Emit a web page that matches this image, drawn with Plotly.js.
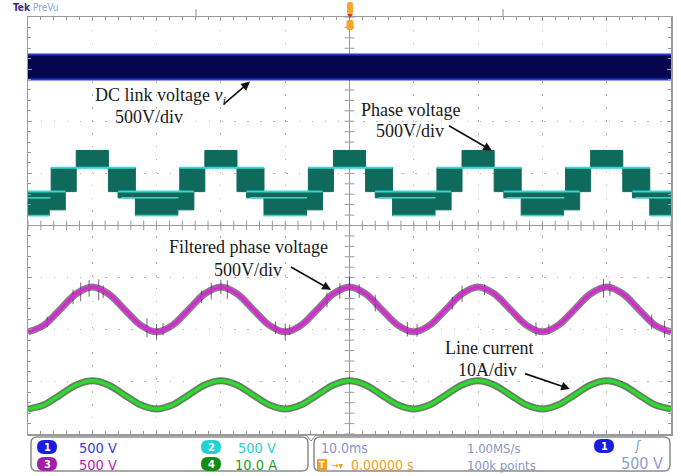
<!DOCTYPE html>
<html>
<head>
<meta charset="utf-8">
<script src="https://cdn.plot.ly/plotly-3.0.1.min.js"></script>
<style>
html,body{margin:0;padding:0;background:#fff;}
#chart{width:681px;height:476px;}
</style>
</head>
<body>
<div id="chart"></div>
<script>
// ---- time axis (ms), 10 ms/div, trigger at 0 ----
const tMs = [-50,-47.5,-45,-42.5,-40,-37.5,-35,-32.5,-30,-27.5,-25,-22.5,-20,-17.5,-15,-12.5,-10,-7.5,-5,-2.5,0,2.5,5,7.5,10,12.5,15,17.5,20,22.5,25,27.5,30,32.5,35,37.5,40,42.5,45,47.5,50];

// ---- values in screen divisions ----
// Ch3 filtered phase voltage (500 V/div)
const filteredPhase = [-2.04,-1.91,-1.61,-1.31,-1.18,-1.31,-1.61,-1.91,-2.04,-1.91,-1.61,-1.31,-1.18,-1.31,-1.61,-1.91,-2.04,-1.91,-1.61,-1.31,-1.18,-1.31,-1.61,-1.91,-2.04,-1.91,-1.61,-1.31,-1.18,-1.31,-1.61,-1.91,-2.04,-1.91,-1.61,-1.31,-1.18,-1.31,-1.61,-1.91,-2.04];
// switching spikes riding on the filtered phase voltage (time, half-height)
const spikeT = [-47,-43,-41.8,-40.5,-39,-38.3,-31.5,-30,-29,-23,-21.5,-20,-19,-11.5,-10,-9.3,-3.5,-1.5,0,1.5,4,9,10.5,16,17.5,21,29,31,39.5,40.5,47,49];
const spikeH = [0.10,0.14,0.18,0.16,0.20,0.12,0.18,0.15,0.12,0.12,0.16,0.14,0.18,0.12,0.16,0.10,0.14,0.15,0.20,0.13,0.16,0.14,0.12,0.12,0.16,0.10,0.13,0.10,0.18,0.14,0.14,0.16];
// Ch4 line current (10 A/div)
const lineCurrent = [-3.52,-3.44,-3.25,-3.06,-2.98,-3.06,-3.25,-3.44,-3.52,-3.44,-3.25,-3.06,-2.98,-3.06,-3.25,-3.44,-3.52,-3.44,-3.25,-3.06,-2.98,-3.06,-3.25,-3.44,-3.52,-3.44,-3.25,-3.06,-2.98,-3.06,-3.25,-3.44,-3.52,-3.44,-3.25,-3.06,-2.98,-3.06,-3.25,-3.44,-3.52];

// Ch1 DC link voltage band (ripple envelope)
const dcT = [-50, 50];
const dcLow = [2.80, 2.80];
const dcHigh = [3.28, 3.28];

// Ch2 phase voltage: PWM envelope, segment start times with low/high level
const phaseT = [-50,-46.7,-46.4,-44.2,-42.5,-37.5,-36.0,-33.3,-26.7,-26.4,-24.2,-22.5,-17.5,-16.0,-13.3,-6.7,-6.4,-4.2,-2.5,2.5,4.0,6.7,13.3,13.6,15.8,17.5,22.5,24.0,26.7,33.3,33.6,35.8,37.5,42.5,44.0,46.7,50];
const phaseLo = [0.19,0.30,0.30,0.65,1.11,0.65,0.53,0.19,0.30,0.30,0.65,1.11,0.65,0.53,0.19,0.30,0.30,0.65,1.11,0.65,0.53,0.19,0.30,0.30,0.65,1.11,0.65,0.53,0.19,0.30,0.30,0.65,1.11,0.65,0.53,0.19,0.19];
const phaseHi = [0.65,0.65,1.11,1.11,1.44,1.11,1.11,0.65,0.65,1.11,1.11,1.44,1.11,1.11,0.65,0.65,1.11,1.11,1.44,1.11,1.11,0.65,0.65,1.11,1.11,1.44,1.11,1.11,0.65,0.65,1.11,1.11,1.44,1.11,1.11,0.65,0.65];
// bright (dwell) levels of the phase voltage
const dwellBX = [-46.4,-33.3,null,-26.4,-13.3,null,-6.4,6.7,null,13.6,26.7,null,33.6,46.7];
const dwellBY = [1.11,1.11,null,1.11,1.11,null,1.11,1.11,null,1.11,1.11,null,1.11,1.11];
const dwellCX = [-50,-44.2,null,-36,-24.2,null,-16,-4.2,null,4,15.8,null,24,35.8,null,44,50];
const dwellCY = [0.65,0.65,null,0.65,0.65,null,0.65,0.65,null,0.65,0.65,null,0.65,0.65,null,0.65,0.65];
const dwellMX = [-50,-46.5,null,-35.5,-26.6,null,-15.5,-6.6,null,4.5,13.4,null,24.5,33.4,null,44.5,50];
const dwellMY = [0.53,0.53,null,0.53,0.53,null,0.53,0.53,null,0.53,0.53,null,0.53,0.53,null,0.53,0.53];
const dwellDX = [-50,-46.7,null,-33.3,-26.7,null,-13.3,-6.7,null,6.7,13.3,null,26.7,33.3,null,46.7,50];
const dwellDY = [0.19,0.19,null,0.19,0.19,null,0.19,0.19,null,0.19,0.19,null,0.19,0.19,null,0.19,0.19];

// build the closed step outline of the phase-voltage envelope from the segments
const envX = [], envY = [];
for (let i = 0; i < phaseT.length - 1; i++) { envX.push(phaseT[i], phaseT[i + 1]); envY.push(phaseHi[i], phaseHi[i]); }
for (let i = phaseT.length - 2; i >= 0; i--) { envX.push(phaseT[i + 1], phaseT[i]); envY.push(phaseLo[i], phaseLo[i]); }
envX.push(envX[0]); envY.push(envY[0]);

// spikes: vertical strokes centred on the filtered-phase curve
function interp(xs, ys, t) {
  for (let i = 0; i < xs.length - 1; i++) if (t >= xs[i] && t <= xs[i + 1]) return ys[i] + (ys[i + 1] - ys[i]) * (t - xs[i]) / (xs[i + 1] - xs[i]);
  return ys[ys.length - 1];
}
const spX = [], spY = [];
spikeT.forEach((t, i) => { const c = interp(tMs, filteredPhase, t); spX.push(t, t, null); spY.push(c - spikeH[i], c + spikeH[i], null); });

// ---- graticule helpers (decorative) ----
const gx = [], gy = [], hx = [], hy = [];
for (let v = -50; v <= 50.001; v += 2) { gx.push(v); gy.push(0); }
for (let v = -4; v <= 4.001; v += 0.2) { hx.push(0); hy.push(+v.toFixed(2)); }

const PL = 28, PR = 671, PT = 17, PB = 434;
const px = x => (x - PL) / (PR - PL);
const py = y => (PB - y) / (PB - PT);
function roundRect(x0, y0, x1, y1, r) {
  const rx = r / (PR - PL), ry = r / (PB - PT);
  const a = px(x0), b = px(x1), c = py(y0), d = py(y1);
  return `M ${a+rx} ${c} L ${b-rx} ${c} Q ${b} ${c} ${b} ${c-ry} L ${b} ${d+ry} Q ${b} ${d} ${b-rx} ${d} L ${a+rx} ${d} Q ${a} ${d} ${a} ${d+ry} L ${a} ${c-ry} Q ${a} ${c} ${a+rx} ${c} Z`;
}

const traces = [
  {x: gx, y: gy, mode: 'markers', marker: {symbol: 'line-ns', size: 7, line: {color: '#9a9a9a', width: 1}}, hoverinfo: 'skip'},
  {x: hx, y: hy, mode: 'markers', marker: {symbol: 'line-ew', size: 7, line: {color: '#9a9a9a', width: 1}}, hoverinfo: 'skip'},
  // DC link band
  {x: dcT, y: dcLow, mode: 'lines', line: {color: '#2438d0', width: 2}},
  {x: dcT, y: dcHigh, mode: 'lines', line: {color: '#2438d0', width: 2}, fill: 'tonexty', fillcolor: '#06064e'},
  // phase voltage envelope
  {x: envX, y: envY, mode: 'lines', line: {color: '#0f6a5c', width: 1}, fill: 'toself', fillcolor: '#0f6a5c'},
  {x: dwellBX, y: dwellBY, mode: 'lines', line: {color: '#2fd9d6', width: 2}},
  {x: dwellCX, y: dwellCY, mode: 'lines', line: {color: '#2fd9d6', width: 2}},
  {x: dwellMX, y: dwellMY, mode: 'lines', line: {color: '#2fd9d6', width: 1.5}},
  {x: dwellDX, y: dwellDY, mode: 'lines', line: {color: '#2fd9d6', width: 1.5}},
  // filtered phase voltage
  {x: spX, y: spY, mode: 'lines', line: {color: 'rgba(70,30,70,0.7)', width: 1}},
  {x: tMs, y: filteredPhase, mode: 'lines', line: {shape: 'spline', color: 'rgba(70,30,70,0.6)', width: 7}},
  {x: tMs, y: filteredPhase, mode: 'lines', line: {shape: 'spline', color: '#d42bd0', width: 3.5}},
  // line current
  {x: tMs, y: lineCurrent, mode: 'lines', line: {shape: 'spline', color: 'rgba(20,60,20,0.65)', width: 7}},
  {x: tMs, y: lineCurrent, mode: 'lines', line: {shape: 'spline', color: '#2bdc2b', width: 3.5}}
];

const serif = {family: 'Liberation Serif, Times New Roman, serif', size: 18, color: '#1a1a1a'};
const tekFont = 'DejaVu Sans Condensed, Liberation Sans Narrow, DejaVu Sans, sans-serif';
const ann = [];
function txt(text, x, y) { ann.push({text, x, y, xref: 'x', yref: 'y', showarrow: false, font: serif, xanchor: 'center', yanchor: 'middle'}); }
function arrow(x, y, ax, ay) { ann.push({text: ' ', x, y, ax, ay, xref: 'x', yref: 'y', showarrow: true, arrowhead: 2, arrowsize: 1.1, arrowwidth: 1.6, arrowcolor: '#111', font: {size: 2}}); }
const X = p => (p - 349.5) / 6.43;
const Y = p => (225.75 - p) / 52.06;
txt('DC link voltage <i>v<sub>i</sub></i>', X(161), Y(97));
txt('500V/div', X(149), Y(117));
arrow(X(250), Y(82), -28, 24);
txt('Phase voltage', X(410), Y(110));
txt('500V/div', X(410), Y(131));
arrow(X(492), Y(151), -45, -26);
txt('Filtered phase voltage', X(248), Y(247));
txt('500V/div', X(248), Y(270));
arrow(X(331), Y(290), -42, -24);
txt('Line current', X(489), Y(348));
txt('10A/div', X(487), Y(370));
arrow(X(570), Y(389), -47, -16);

function ptxt(text, x, y, color, size, anchor) {
  ann.push({text, x: px(x), y: py(y), xref: 'paper', yref: 'paper', showarrow: false,
    font: {family: tekFont, size: size, color: color}, xanchor: anchor || 'left', yanchor: 'middle'});
}
ptxt('<b>Tek</b>', 11, 8, '#3b2a86', 10);
ptxt('PreVu', 31, 8, '#8aa2e4', 10);

const shapes = [];
shapes.push({type: 'path', xref: 'paper', yref: 'paper', path: roundRect(31, 437, 308, 471, 6), line: {color: '#8a8a8a', width: 1.5}, fillcolor: '#fff'});
shapes.push({type: 'path', xref: 'paper', yref: 'paper', path: roundRect(314, 437, 670, 471, 6), line: {color: '#8a8a8a', width: 1.5}, fillcolor: '#fff'});
shapes.push({type: 'path', xref: 'paper', yref: 'paper', path: `M ${px(306)} ${py(435)} L ${px(316)} ${py(435)} L ${px(311)} ${py(441)} Z`, line: {color: '#8a8a8a', width: 1}, fillcolor: '#fff'});
function badge(cx, cy, color, label) {
  shapes.push({type: 'path', xref: 'paper', yref: 'paper', path: roundRect(cx - 10, cy - 7, cx + 10, cy + 7, 7), line: {width: 0}, fillcolor: color});
  ptxt('<b>' + label + '</b>', cx, cy + 0.5, '#ffffff', 11, 'center');
}
badge(47, 447, '#1c1ce0', '1');
badge(47, 464, '#a01ea8', '3');
badge(211, 447, '#1fd3d3', '2');
badge(211, 464, '#138c13', '4');
badge(604, 446, '#1c1ce0', '1');
ptxt('500 V', 77, 448, '#3a3ae0', 14.5);
ptxt('500 V', 77, 465, '#b01fb0', 14.5);
ptxt('500 V', 236, 448, '#2bd0d0', 14.5);
ptxt('10.0 A', 233, 465, '#1d9a1d', 14.5);
ptxt('10.0ms', 319, 448, '#8796c6', 14);
ptxt('1.00MS/s', 465, 448, '#8796c6', 13);
ptxt('100k points', 465, 465, '#8796c6', 13);
ptxt('0.00000 s', 349, 465, '#f0a023', 14);
ptxt('→▾', 329, 465, '#f0a023', 10);
ptxt('<i>ʃ</i>', 632, 445.5, '#6f88d8', 12);
ptxt('500 V', 619, 463.5, '#8fa0cc', 16);
shapes.push({type: 'rect', xref: 'paper', yref: 'paper', x0: px(317), x1: px(327), y0: py(470), y1: py(459), line: {width: 0}, fillcolor: '#f0a023'});
ptxt('<b>T</b>', 322, 465, '#ffffff', 9, 'center');
// record-view marks and trigger position marker
[196, 503].forEach(m => shapes.push({type: 'line', xref: 'paper', yref: 'paper', x0: px(m), x1: px(m), y0: py(17), y1: py(9), line: {color: '#8a8a8a', width: 1}}));
shapes.push({type: 'path', xref: 'paper', yref: 'paper', path: roundRect(347, 2, 353, 14, 2), line: {width: 0}, fillcolor: '#f2a62a'});
shapes.push({type: 'path', xref: 'paper', yref: 'paper', path: `M ${px(347)} ${py(14)} L ${px(353)} ${py(14)} L ${px(350)} ${py(18)} Z`, line: {width: 0}, fillcolor: '#e03020'});
shapes.push({type: 'path', xref: 'paper', yref: 'paper', path: roundRect(346.5, 20, 353.5, 30, 2), line: {width: 0}, fillcolor: '#f2a62a'});

const axisCommon = {
  showticklabels: false, showgrid: true, gridcolor: '#b4b4b4', gridwidth: 1,
  zeroline: true, zerolinecolor: '#9a9a9a', zerolinewidth: 1,
  showline: true, mirror: 'ticks', linecolor: '#9a9a9a', linewidth: 1.5,
  ticks: 'inside', ticklen: 4, tickcolor: '#9a9a9a', fixedrange: true
};
const layout = {
  width: 681, height: 476,
  margin: {l: PL, r: 681 - PR, t: PT, b: 476 - PB},
  paper_bgcolor: '#ffffff', plot_bgcolor: '#ffffff',
  showlegend: false,
  xaxis: Object.assign({}, axisCommon, {range: [-50, 50], tick0: 0, dtick: 10, griddash: '1.5px,11.4px',
    minor: {dtick: 2, ticks: 'inside', ticklen: 3, tickcolor: '#9a9a9a', showgrid: false}}),
  yaxis: Object.assign({}, axisCommon, {range: [-4, 4], tick0: 0, dtick: 1, griddash: '1.5px,11.4px',
    minor: {dtick: 0.2, ticks: 'inside', ticklen: 3, tickcolor: '#9a9a9a', showgrid: false}}),
  annotations: ann,
  shapes: shapes
};
Plotly.newPlot('chart', traces, layout, {displayModeBar: false, staticPlot: true});
</script>
</body>
</html>
